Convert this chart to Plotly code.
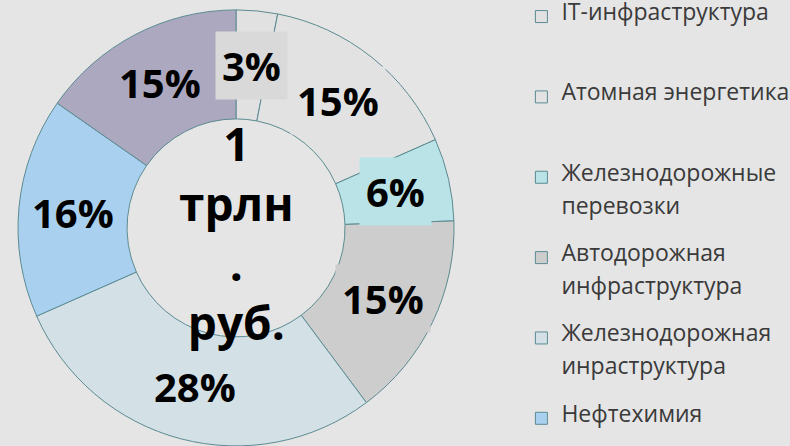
import math
import plotly.graph_objects as go

labels = [
    "IT-инфраструктура",
    "Атомная энергетика",
    "Железнодорожные<br>перевозки",
    "Автодорожная<br>инфраструктура",
    "Железнодорожная<br>инраструктура",
    "Нефтехимия",
    "Прочее",
]
values = [3, 15, 6, 15, 28, 16, 15]
colors = ["#e1e1e1", "#e2e2e2", "#b9e3e6", "#cdcdcd", "#d3e1e6", "#a9d1ef", "#aba8bf"]
label_bg = ["#d9d9d9", "#e2e2e2", "#b9e3e6", "#cdcdcd", "#d3e1e6", "#a9d1ef", "#aba8bf"]
center_text = "1<br>трлн<br>.<br>руб."

W, H = 790, 446
DOM_X = [0.0228, 0.5747]
DOM_Y = [0.0, 0.978]
HOLE = 0.5

# Legend entries: large text inside spans, with a small base font so that
# blank lines give the wide, even spacing of the original legend.
LEGEND_BASE = 8.5
LEGEND_TEXT = 23
LINES_PER_ENTRY = 7
legend_names = []
for lab in labels:
    parts = [f"<span style='font-size:{LEGEND_TEXT}px'>{p}</span>" for p in lab.split("<br>")]
    txt = "<br> <br> <br>".join(parts)
    used = 1 + 3 * (len(parts) - 1)
    txt += "<br> " * (LINES_PER_ENTRY - used)
    legend_names.append(txt)

fig = go.Figure(
    go.Pie(
        labels=legend_names,
        values=values,
        sort=False,
        direction="clockwise",
        rotation=0,
        hole=HOLE,
        marker=dict(colors=colors, line=dict(color="#5b8b92", width=1)),
        textinfo="none",
        domain=dict(x=DOM_X, y=DOM_Y),
        hoverinfo="value",
    )
)

cx = sum(DOM_X) / 2
cy = sum(DOM_Y) / 2

# Centre caption in the hole
fig.add_annotation(
    x=cx, y=cy, xref="paper", yref="paper",
    xanchor="center", yanchor="middle", yshift=-5,
    text=center_text, showarrow=False,
    font=dict(family="Open Sans", size=46, color="#000000", weight="bold"),
)

# Percentage labels at the middle of each ring segment (as in the original),
# derived from the values.
r_px = min((DOM_X[1] - DOM_X[0]) * W, (DOM_Y[1] - DOM_Y[0]) * H) / 2
r_mid = r_px * (1 + HOLE) / 2
total = sum(values)
cum = 0
for v, bg in zip(values, label_bg):
    ang = 2 * math.pi * (cum + v / 2) / total
    cum += v
    fig.add_annotation(
        x=cx + r_mid * math.sin(ang) / W,
        y=cy + r_mid * math.cos(ang) / H,
        xref="paper",
        yref="paper",
        xanchor="center",
        yanchor="middle",
        text=f"{v}%",
        showarrow=False,
        font=dict(family="Open Sans", size=40, color="#000000", weight="bold"),
        bgcolor=bg,
        borderpad=6,
    )

fig.update_layout(
    width=W,
    height=H,
    margin=dict(l=0, r=0, t=0, b=0, autoexpand=False),
    paper_bgcolor="#e5e5e5",
    plot_bgcolor="#e5e5e5",
    legend=dict(
        x=0.66,
        xanchor="left",
        y=1.019,
        yanchor="top",
        valign="top",
        maxheight=2000,
        title=dict(text=" ", font=dict(size=10)),
        font=dict(family="Open Sans", size=LEGEND_BASE, color="#3a3a3a"),
        bgcolor="rgba(0,0,0,0)",
        itemclick=False,
    ),
)

fig.write_html(
    "out.html",
    config={"displayModeBar": False},
    post_script="document.body.style.margin='0';",
)
